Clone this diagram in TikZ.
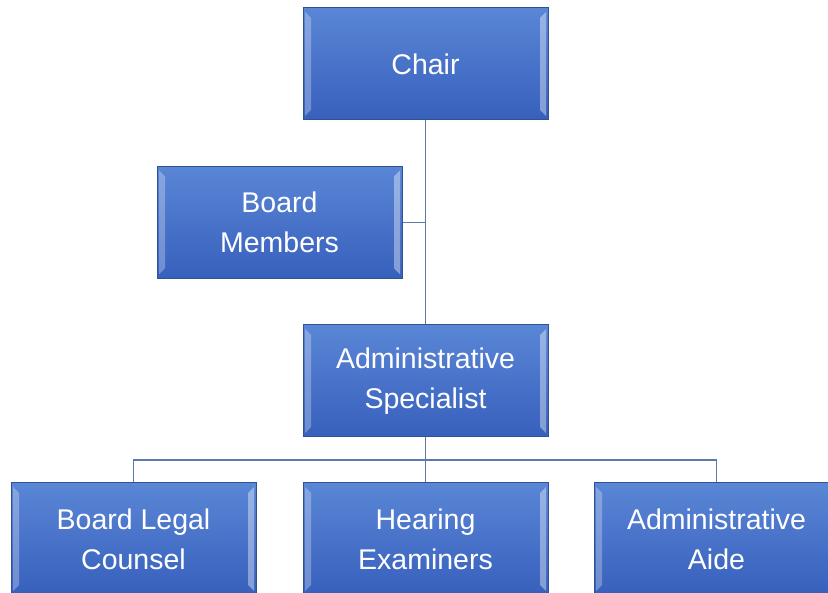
\documentclass[tikz,border=0pt]{standalone}
\usepackage{fontspec}
\setmainfont{Liberation Sans}
\usetikzlibrary{shadings}

\definecolor{boxtop}{HTML}{5A86D6}
\definecolor{boxbot}{HTML}{3760BC}
\definecolor{boxedge}{HTML}{2F5290}
\definecolor{linecol}{HTML}{5A7AAA}

\tikzset{
  orgbox/.style={draw=boxedge,line width=1pt,top color=boxtop,bottom color=boxbot,
    minimum width=245pt,minimum height=112pt,inner sep=0pt,text=white,align=center,
    font=\fontsize{28.5}{40}\selectfont,
    path picture={
      \fill[white,opacity=.28] ([shift={(2pt,-4pt)}]path picture bounding box.north west)
        -- ++(6pt,-6pt) -- ([shift={(8pt,10pt)}]path picture bounding box.south west)
        -- ++(-6pt,-6pt) -- cycle;
      \fill[white,opacity=.38] ([shift={(-2pt,-4pt)}]path picture bounding box.north east)
        -- ++(-6pt,-6pt) -- ([shift={(-8pt,10pt)}]path picture bounding box.south east)
        -- ++(6pt,-6pt) -- cycle;
    }},
  orgline/.style={draw=linecol,line width=1.2pt}
}

\begin{document}
\begin{tikzpicture}[x=1pt,y=-1pt]
  \useasboundingbox (0,0) rectangle (828,593);
  \clip (0,0) rectangle (828,593);
  % boxes
  \node[orgbox] (chair) at (425.5,64) {Chair};
  \node[orgbox] (board) at (279.5,222.5) {Board\\Members};
  \node[orgbox] (spec) at (425.5,381) {Administrative\\Specialist};
  \node[orgbox] (counsel) at (133.5,539) {Board Legal\\Counsel};
  \node[orgbox] (exam) at (425.5,539) {Hearing\\Examiners};
  \node[orgbox] (aide) at (716.5,539) {Administrative\\Aide};
  \coordinate (bus) at (425.5,460);
  % connectors
  \draw[orgline] (chair.south) -- (spec.north);
  \draw[orgline] (board.east) -- (board.east -| chair.south);
  \draw[orgline] (spec.south) -- (bus);
  \draw[orgline] (counsel.north) |- (bus);
  \draw[orgline] (aide.north) |- (bus);
  \draw[orgline] (exam.north) -- (bus);
\end{tikzpicture}
\end{document}
